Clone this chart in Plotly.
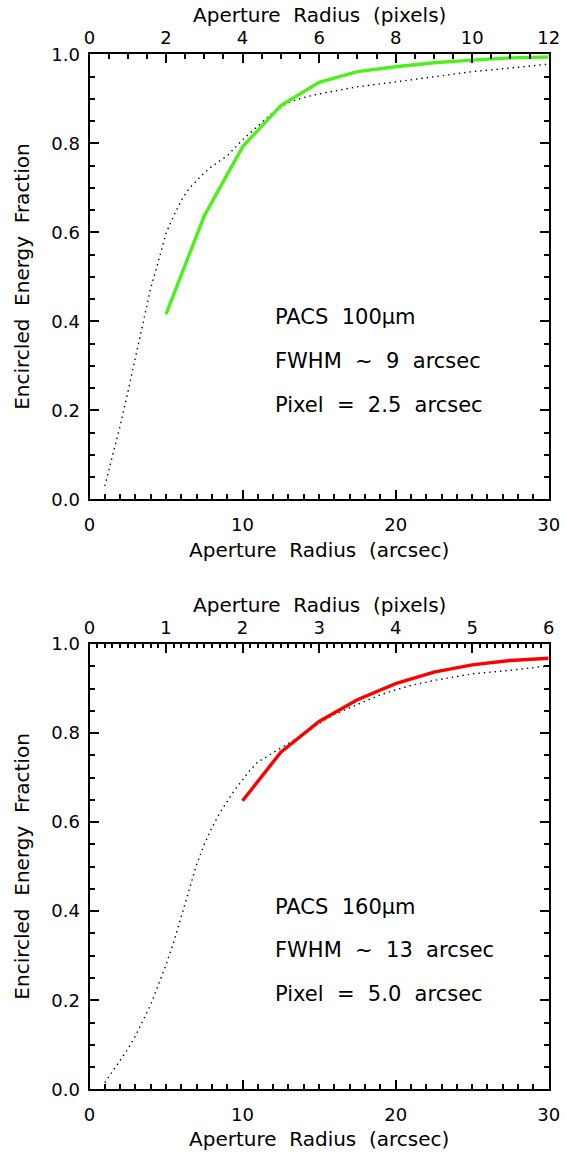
import plotly.graph_objects as go

W, H = 566, 1155

# ---------------- data ----------------
# Top panel: PACS 100um (pixel = 2.5 arcsec)
top_green_arcsec = [5, 7.5, 10, 12.5, 15, 17.5, 20, 22.5, 25, 27.5, 30]
top_green_eef = [0.416, 0.637, 0.792, 0.885, 0.937, 0.961, 0.972, 0.981, 0.987, 0.992, 0.994]

top_dot_arcsec = [1.0, 1.5, 2.0, 2.5, 3.0, 3.5, 4.0, 4.5, 5.0, 5.5, 6.0, 6.5, 7.0, 7.5,
                  8.0, 9.0, 10, 11, 12, 13, 14, 15, 17.5, 20, 22.5, 25, 27.5, 30]
top_dot_eef = [0.03, 0.095, 0.165, 0.24, 0.32, 0.40, 0.475, 0.535, 0.598, 0.637, 0.672,
               0.698, 0.717, 0.734, 0.748, 0.772, 0.808, 0.838, 0.870, 0.892, 0.903,
               0.911, 0.927, 0.938, 0.950, 0.961, 0.969, 0.978]

# Bottom panel: PACS 160um (pixel = 5.0 arcsec)
bot_red_arcsec = [10, 12.5, 15, 17.5, 20, 22.5, 25, 27.5, 30]
bot_red_eef = [0.648, 0.757, 0.826, 0.875, 0.911, 0.937, 0.953, 0.963, 0.968]

bot_dot_arcsec = [1.0, 1.5, 2.0, 2.5, 3.0, 3.5, 4.0, 4.5, 5.0, 5.5, 6.0, 6.5, 7.0, 7.5,
                  8.0, 8.5, 9.0, 9.5, 10, 10.5, 11, 12, 13, 14, 15, 16, 17, 18, 19,
                  20, 21, 22.5, 25, 27.5, 30]
bot_dot_eef = [0.015, 0.04, 0.066, 0.09, 0.12, 0.155, 0.19, 0.235, 0.28, 0.33, 0.39,
               0.45, 0.505, 0.55, 0.588, 0.62, 0.648, 0.673, 0.695, 0.717, 0.735, 0.757,
               0.777, 0.797, 0.822, 0.842, 0.857, 0.872, 0.886, 0.897, 0.907, 0.918,
               0.933, 0.941, 0.951]

top_labels = ["PACS 100\u03bcm", "FWHM ~ 9 arcsec", "Pixel = 2.5 arcsec"]
bot_labels = ["PACS 160\u03bcm", "FWHM ~ 13 arcsec", "Pixel = 5.0 arcsec"]

x_title_arcsec = "Aperture Radius (arcsec)"
x_title_pixels = "Aperture Radius (pixels)"
y_title = "Encircled Energy Fraction"

# ---------------- layout geometry (pixels) ----------------
FONT = "DejaVu Sans"
px_l, px_r = 89.5, 548.7
top_t, top_b = 54.3, 499.3
bot_t, bot_b = 644.0, 1089.3


def fx(p):
    return p / W


def fy(p):
    return 1 - p / H


def spaced(s):
    return s.replace(" ", "\u00a0 ")


GREEN = "#4cf01a"
RED = "#ff0000"

fig = go.Figure()
dot_line = dict(color="black", width=1.4, dash="1.4px,4px")

fig.add_trace(go.Scatter(x=top_dot_arcsec, y=top_dot_eef, mode="lines", line=dot_line,
                         xaxis="x", yaxis="y", showlegend=False, hoverinfo="skip"))
fig.add_trace(go.Scatter(x=top_green_arcsec, y=top_green_eef, mode="lines",
                         line=dict(color=GREEN, width=3.4), xaxis="x", yaxis="y",
                         showlegend=False))
fig.add_trace(go.Scatter(x=[], y=[], xaxis="x2", yaxis="y", showlegend=False))

fig.add_trace(go.Scatter(x=bot_dot_arcsec, y=bot_dot_eef, mode="lines", line=dot_line,
                         xaxis="x3", yaxis="y2", showlegend=False, hoverinfo="skip"))
fig.add_trace(go.Scatter(x=bot_red_arcsec, y=bot_red_eef, mode="lines",
                         line=dict(color=RED, width=3.4), xaxis="x3", yaxis="y2",
                         showlegend=False))
fig.add_trace(go.Scatter(x=[], y=[], xaxis="x4", yaxis="y2", showlegend=False))

tickfont = dict(family=FONT, size=18, color="black")
xdom = [fx(px_l), fx(px_r)]


def xaxis(rng, dtick, mdtick, side, anchor, overlaying=None, mlen=5, standoff=10):
    d = dict(domain=xdom, range=rng, dtick=dtick, tick0=0, side=side, anchor=anchor,
             showline=True, linecolor="black", linewidth=2, mirror=False,
             ticks="inside", ticklen=9, tickwidth=2, tickcolor="black",
             minor=dict(dtick=mdtick, tick0=0, ticks="inside", ticklen=mlen,
                        tickwidth=1.5, tickcolor="black", showgrid=False),
             showgrid=False, zeroline=False, tickfont=tickfont, automargin=False,
             ticklabelstandoff=standoff, fixedrange=True)
    if overlaying:
        d["overlaying"] = overlaying
    return d


def yaxis(dom, anchor):
    return dict(domain=dom, range=[0, 1.0], dtick=0.2, tick0=0, anchor=anchor,
                showline=True, linecolor="black", linewidth=2, mirror="ticks",
                ticks="inside", ticklen=9, tickwidth=2, tickcolor="black",
                minor=dict(dtick=0.05, tick0=0, ticks="inside", ticklen=5,
                           tickwidth=1.5, tickcolor="black", showgrid=False),
                showgrid=False, zeroline=False, tickfont=tickfont, tickformat=".1f",
                ticklabelstandoff=4, fixedrange=True, automargin=False)


fig.update_layout(
    template="none",
    width=W, height=H,
    margin=dict(l=0, r=0, t=0, b=0, pad=0, autoexpand=False),
    paper_bgcolor="white", plot_bgcolor="white",
    font=dict(family=FONT, color="black"),
    xaxis=xaxis([0, 30], 10, 1, "bottom", "y", standoff=8),
    xaxis2=xaxis([0, 12], 2, 0.5, "top", "y", overlaying="x", standoff=1),
    xaxis3=xaxis([0, 30], 10, 1, "bottom", "y2", standoff=8),
    xaxis4=xaxis([0, 6], 1, 0.1, "top", "y2", overlaying="x3", mlen=4, standoff=1),
    yaxis=yaxis([fy(top_b), fy(top_t)], "x"),
    yaxis2=yaxis([fy(bot_b), fy(bot_t)], "x3"),
)

ann = []
cx = fx((px_l + px_r) / 2)
title_font = dict(family=FONT, size=20, color="black")
for txt, yy in [(x_title_pixels, 15), (x_title_arcsec, 550),
                (x_title_pixels, 605), (x_title_arcsec, 1139)]:
    ann.append(dict(text=spaced(txt), x=cx, y=fy(yy), xref="paper", yref="paper",
                    xanchor="center", yanchor="middle", showarrow=False, font=title_font))
for yy in [(top_t + top_b) / 2, (bot_t + bot_b) / 2]:
    ann.append(dict(text=spaced(y_title), x=fx(22), y=fy(yy), xref="paper", yref="paper",
                    xanchor="center", yanchor="middle", showarrow=False, textangle=-90,
                    font=title_font))

label_font = dict(family=FONT, size=21, color="black")
for labels, ys in [(top_labels, [317, 361, 405]), (bot_labels, [907, 950, 994])]:
    for txt, yy in zip(labels, ys):
        ann.append(dict(text=spaced(txt), x=fx(273), y=fy(yy), xref="paper", yref="paper",
                        xanchor="left", yanchor="middle", showarrow=False, font=label_font))

fig.update_layout(annotations=ann)

fig.write_html(
    "out.html",
    config={"displayModeBar": False},
    post_script="document.body.style.margin='0';document.documentElement.style.overflow='hidden';",
)
